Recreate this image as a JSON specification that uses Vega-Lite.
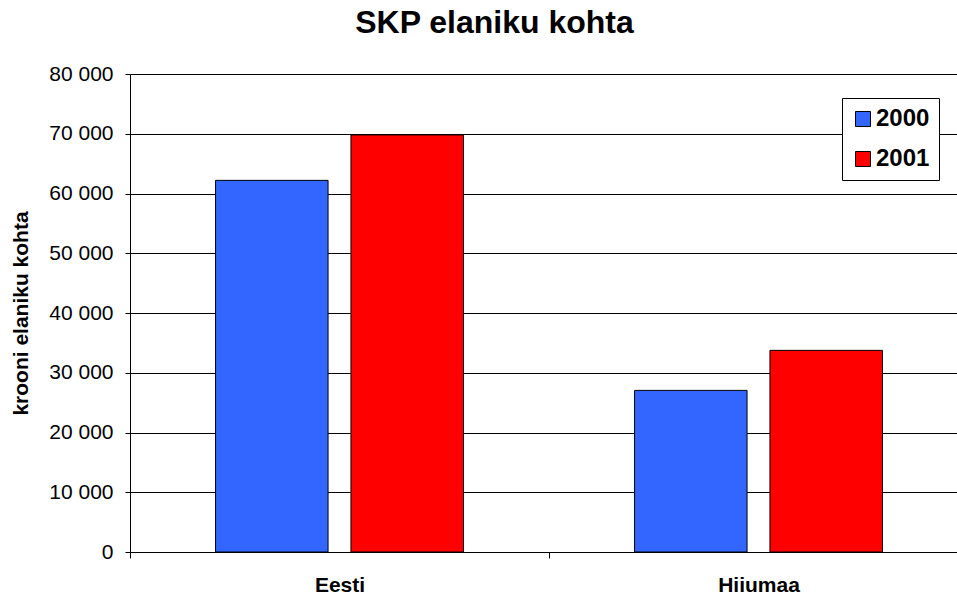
{
  "$schema": "https://vega.github.io/schema/vega-lite/v6.json",
  "autosize": {"type": "none"},
  "padding": {"left": 130, "top": 74, "right": 0, "bottom": 45},
  "width": 827,
  "height": 478,
  "background": "white",
  "config": {
    "view": {"stroke": null},
    "font": "Liberation Sans",
    "locale": {"number": {"decimal": ",", "thousands": " ", "grouping": [3], "currency": ["", ""]}}
  },
  "title": {
    "text": "SKP elaniku kohta",
    "font": "Liberation Sans",
    "fontSize": 32,
    "fontWeight": "bold",
    "color": "black",
    "anchor": "middle",
    "frame": "group",
    "dx": -49,
    "baseline": "alphabetic",
    "offset": -2
  },
  "data": {
    "values": [
      {"region": "Eesti", "year": "2000", "value": 62200},
      {"region": "Eesti", "year": "2001", "value": 69800},
      {"region": "Hiiumaa", "year": "2000", "value": 27050},
      {"region": "Hiiumaa", "year": "2001", "value": 33750}
    ]
  },
  "mark": {"type": "bar", "stroke": "black", "strokeWidth": 1, "opacity": 1},
  "encoding": {
    "x": {
      "field": "region",
      "type": "nominal",
      "sort": ["Eesti", "Hiiumaa"],
      "scale": {"range": [0, 838], "paddingInner": 0, "paddingOuter": 0},
      "axis": {
        "title": null,
        "labelAngle": 0,
        "tickBand": "extent",
        "tickSize": 6,
        "labelPadding": 16,
        "labelFont": "Liberation Sans",
        "labelFontSize": 21,
        "labelFontWeight": "bold",
        "labelColor": "black",
        "domainColor": "black",
        "tickColor": "black",
        "grid": false
      }
    },
    "xOffset": {
      "field": "year",
      "type": "nominal",
      "scale": {"paddingInner": 0.169, "paddingOuter": 0.632}
    },
    "y": {
      "field": "value",
      "type": "quantitative",
      "scale": {"domain": [0, 80000], "nice": false},
      "axis": {
        "values": [0, 10000, 20000, 30000, 40000, 50000, 60000, 70000, 80000],
        "format": ",d",
        "tickSize": 5,
        "labelPadding": 12,
        "labelFont": "Liberation Sans",
        "labelFontSize": 21,
        "labelColor": "black",
        "domainColor": "black",
        "tickColor": "black",
        "grid": true,
        "gridColor": "black",
        "gridOpacity": 1,
        "gridWidth": 1,
        "title": "krooni elaniku kohta",
        "titleFont": "Liberation Sans",
        "titleFontSize": 21,
        "titleFontWeight": "bold",
        "titleColor": "black",
        "titlePadding": 17
      }
    },
    "color": {
      "field": "year",
      "type": "nominal",
      "scale": {"domain": ["2000", "2001"], "range": ["#3366FF", "#FF0000"]},
      "legend": {
        "title": null,
        "orient": "none",
        "legendX": 712,
        "legendY": 24,
        "strokeColor": "black",
        "fillColor": "white",
        "padding": 9,
        "symbolType": "square",
        "symbolSize": 225,
        "symbolStrokeColor": "black",
        "symbolStrokeWidth": 1,
        "symbolOpacity": 1,
        "labelFont": "Liberation Sans",
        "labelFontSize": 24,
        "labelFontWeight": "bold",
        "labelColor": "black",
        "labelOffset": 1,
        "rowPadding": 16
      }
    }
  }
}
